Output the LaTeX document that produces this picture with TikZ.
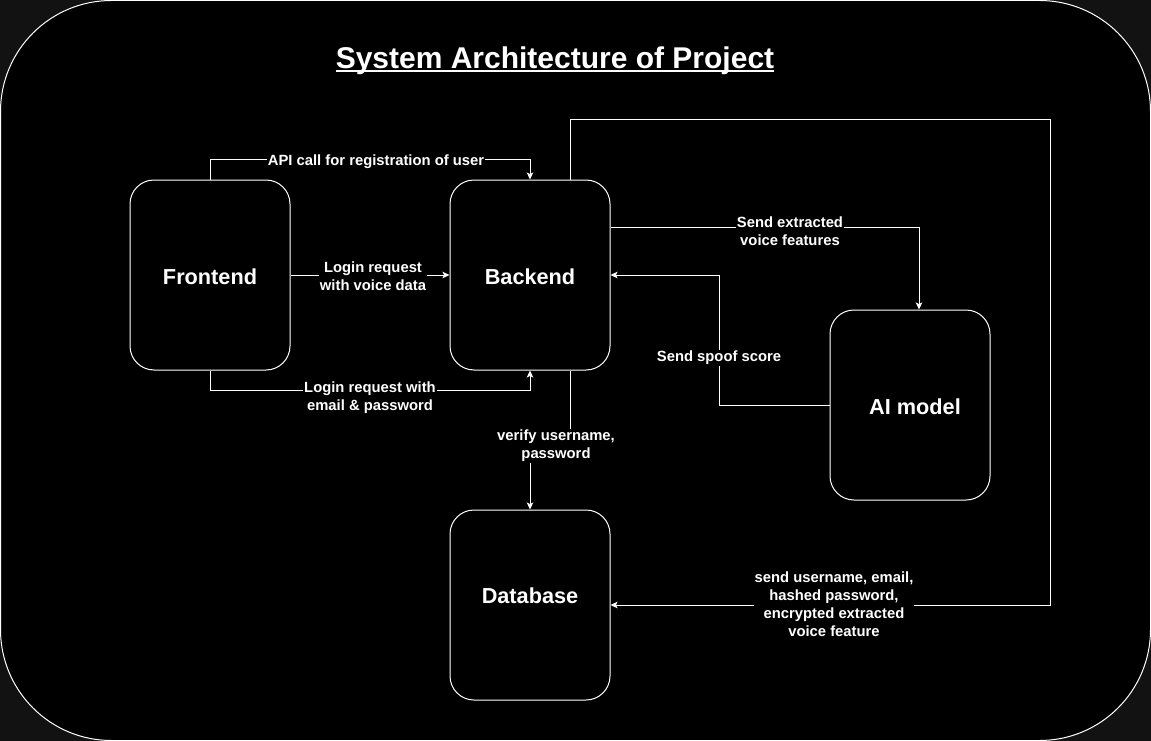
\documentclass[tikz,border=0pt]{standalone}
\usepackage{fontspec}
\setmainfont{Liberation Sans}
\usetikzlibrary{arrows.meta,calc}
\definecolor{bgout}{RGB}{18,18,18}
\begin{document}
\begin{tikzpicture}[x=1pt,y=-1pt,
  box/.style={draw=white, line width=1pt, fill=black, rounded corners=24pt, minimum width=160pt, minimum height=190pt, text=white, font=\fontsize{21.7}{26}\selectfont\bfseries, inner sep=0pt, text height=18.5pt, text depth=0pt},
  conn/.style={draw=white, line width=1pt, -{Stealth[length=7pt,width=6.5pt,inset=1.5pt]}},
  lbl/.style={fill=black, text=white, font=\fontsize{14.8}{18}\selectfont\bfseries, align=center, inner sep=1pt},
  titlestyle/.style={text=white, font=\fontsize{30}{36}\selectfont\bfseries, inner sep=0pt, anchor=base}
]
\fill[bgout] (0,0) rectangle (1151,741);
\useasboundingbox (0,0) rectangle (1151,741);
\draw[white, line width=1pt, fill=black, rounded corners=111pt] (0.5,0.5) rectangle (1150.5,740.5);

\node[titlestyle] (title) at (555,68.5) {System Architecture of Project};
\draw[white, line width=2pt] ($(title.base west)+(0,3)$) -- ($(title.base east)+(0,3)$);

\node[box] (fe) at (210,275) {Frontend};
\node[box] (be) at (530,275) {Backend};
\node[box] (ai) at (910,405) {\hspace*{10pt}AI model};
\node[box, text height=0pt, text depth=2.5pt] (db) at (530,605) {Database};

% API call
\draw[conn] (fe.north) -- ++(0,-20) -| (be.north);
\node[lbl] (l1) at (376,162) {API call for registration of user};

% Login voice
\draw[conn] (fe.east) -- (be.west);
\node[lbl] (l2) at (373,276) {Login request\\with voice data};

% Login email
\draw[conn] (fe.south) -- ++(0,20) -| (be.south);
\node[lbl] (l3) at (370,398) {Login request with\\email \& password};

% Send extracted
\coordinate (beout) at ($(be.east)+(0,-48)$);
\coordinate (aiin) at ($(ai.north)+(9,0)$);
\draw[conn] (beout) -| (aiin);
\node[lbl] (l4) at (790,231) {Send extracted\\voice features};

% Send spoof score
\draw[conn] (ai.west) -- ++(-110,0) |- (be.east);
\node[lbl] (l5) at (719,358) {Send spoof score};

% Registration storage loop
\coordinate (betop) at ($(be.north)+(40,0)$);
\draw[conn] (betop) -- ++(0,-60) -- ++(480,0) |- (db.east);
\node[lbl] (l6) at (834,604) {send username, email,\\hashed password,\\encrypted extracted\\voice feature};

% Verify
\coordinate (bebot) at ($(be.south)+(40,0)$);
\draw[conn] (bebot) -- ++(0,70) -| (db.north);
\node[lbl] (l7) at (556,446) {verify username,\\password};
\end{tikzpicture}
\end{document}
